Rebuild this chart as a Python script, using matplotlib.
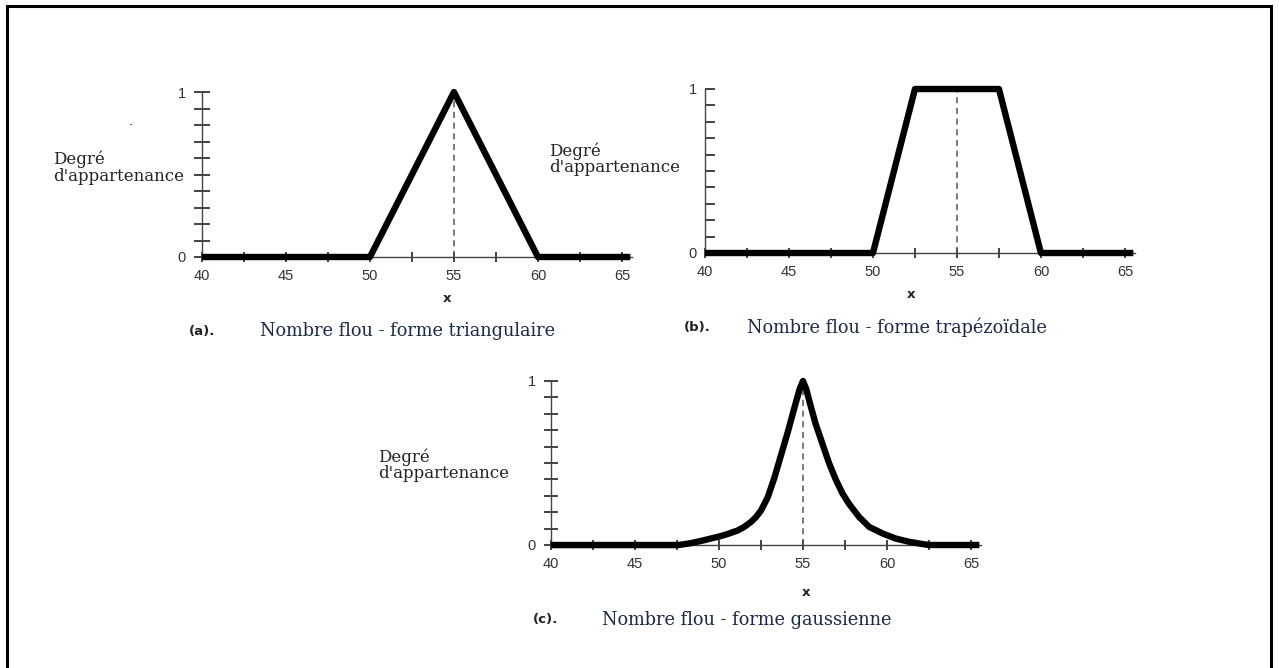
import matplotlib
matplotlib.use("Agg")
import matplotlib.pyplot as plt
from matplotlib.patches import Rectangle

W, H = 1279, 668

# data
x_tri = [40, 50, 55, 60, 65.5]
y_tri = [0, 0, 1, 0, 0]

x_trap = [40, 50, 52.5, 57.5, 60, 65.5]
y_trap = [0, 0, 1, 1, 0, 0]

x_gauss = [40, 47.6, 48.2, 48.9, 49.5, 50.1, 50.6, 51.1, 51.5, 51.9, 52.2, 52.5,
           52.9, 53.3, 53.7, 54.1, 54.5, 54.8, 55.0,
           55.2, 55.4, 55.75, 56.15, 56.55, 56.95, 57.35, 57.75, 58.35, 58.95,
           59.75, 60.5, 61.3, 62.1, 62.5, 65.5]
y_gauss = [0, 0, 0.009, 0.024, 0.039, 0.054, 0.07, 0.088, 0.11, 0.14, 0.17, 0.21,
           0.29, 0.41, 0.55, 0.69, 0.84, 0.95, 1.0,
           0.95, 0.87, 0.74, 0.62, 0.50, 0.40, 0.315, 0.25, 0.17, 0.11,
           0.07, 0.04, 0.02, 0.006, 0, 0]

x_ticks = [40, 42.5, 45, 47.5, 50, 52.5, 55, 57.5, 60, 62.5, 65]
x_labels = ['40', '', '45', '', '50', '', '55', '', '60', '', '65']
y_ticks = [0, 0.1, 0.2, 0.3, 0.4, 0.5, 0.6, 0.7, 0.8, 0.9, 1.0]
y_labels = ['0', '', '', '', '', '', '', '', '', '', '1']

ylab = "Degré\nd'appartenance"
captions = [("(a).", "Nombre flou - forme triangulaire"),
            ("(b).", "Nombre flou - forme trapézoïdale"),
            ("(c).", "Nombre flou - forme gaussienne")]

cap_col = '#1c2a48'

fig = plt.figure(figsize=(W / 100, H / 100), dpi=100)


def fx(px):
    return px / W


def fy(py):
    return 1 - py / H


def panel(left, zero_y, one_y, xs, ys, ydir, ylen):
    # axes spanning x 40..65.6, y 0..1
    width = 430
    ax = fig.add_axes([fx(left), fy(zero_y), width / W, (zero_y - one_y) / H])
    ax.set_xlim(40, 65.6)
    ax.set_ylim(0, 1)
    for s in ['top', 'right']:
        ax.spines[s].set_visible(False)
    for s in ['left', 'bottom']:
        ax.spines[s].set_color('#444444')
        ax.spines[s].set_linewidth(1.0)
    ax.set_xticks(x_ticks)
    ax.set_xticklabels(x_labels)
    ax.set_yticks(y_ticks)
    ax.set_yticklabels(y_labels)
    ax.tick_params(axis='x', direction='inout', length=7, width=1.2, color='#222222',
                   pad=5, labelsize=10.5, labelcolor='#333333')
    ax.tick_params(axis='y', direction=ydir, length=ylen, width=1.2, color='#222222',
                   pad=6, labelsize=10.5, labelcolor='#333333')
    for lab in ax.get_xticklabels() + ax.get_yticklabels():
        lab.set_family('Liberation Sans')
    ax.plot([55, 55], [0, 1], ls=(0, (4, 3)), color='#555555', lw=1.1, clip_on=False)
    ax.plot(xs, ys, color='black', lw=4.6, solid_joinstyle='round',
            solid_capstyle='butt', clip_on=False, zorder=5)
    ax.patch.set_alpha(0)
    return ax


axa = panel(202, 257, 92, x_tri, y_tri, 'inout', 11)
axb = panel(705, 253, 89, x_trap, y_trap, 'in', 7.5)
axc = panel(551, 545, 381, x_gauss, y_gauss, 'inout', 10)
# faint green trace under the zero segment in (c)
axc.plot([40, 47.3], [-0.012, -0.012], color='#3cb043', lw=1.0, clip_on=False, zorder=4)

# y labels
for (tx, ty) in [(53, 151), (549, 142), (378, 448)]:
    fig.text(fx(tx), fy(ty), ylab, family='DejaVu Serif', fontsize=12, va='top',
             ha='left', linespacing=0.95, color='#222222')

# x labels
for (tx, ty) in [(447, 299), (911, 295), (806, 593)]:
    fig.text(fx(tx), fy(ty), 'x', family='DejaVu Sans', fontsize=9.5, weight='bold',
             ha='center', va='center', color='#222222')

# captions
for (lx, tx, ty), (tag, txt) in zip([(189, 260, 331), (684, 747, 327), (533, 602, 620)], captions):
    fig.text(fx(lx), fy(ty), tag, family='DejaVu Sans', fontsize=9.5, weight='bold',
             ha='left', va='center', color='#222222')
    fig.text(fx(tx), fy(ty), txt, family='DejaVu Serif', fontsize=12.8, ha='left',
             va='center', color=cap_col)

# stray dot in the original scan
fig.text(fx(131), fy(125), '.', fontsize=9, color='black', ha='center', va='baseline')

# outer frame
fig.patches.append(Rectangle((fx(7), fy(700)), fx(1271 - 7), (700 - 6) / H,
                             transform=fig.transFigure, fill=False, lw=2.2,
                             edgecolor='black'))

fig.savefig('out.png', dpi=100)
